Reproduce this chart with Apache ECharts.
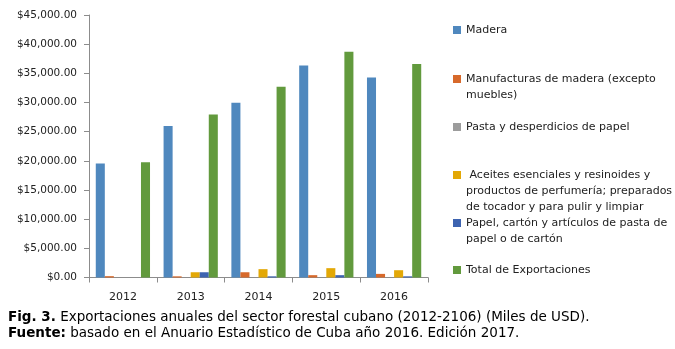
<!DOCTYPE html>
<html><head><meta charset="utf-8">
<script src="https://cdn.jsdelivr.net/npm/echarts@6/dist/echarts.min.js"></script>
<style>html,body{margin:0;padding:0;background:#fff}#c{width:675px;height:349px}</style>
</head><body><div id="c"></div>
<script>
const categories = ['2012', '2013', '2014', '2015', '2016'];
const seriesNames = [
  'Madera',
  'Manufacturas de madera (excepto\nmuebles)',
  'Pasta y desperdicios de papel',
  ' Aceites esenciales y resinoides y\nproductos de perfumería; preparados\nde tocador y para pulir y limpiar',
  'Papel, cartón y artículos de pasta de\npapel o de cartón',
  'Total de Exportaciones'
];
const madera = [19540, 25960, 29940, 36330, 34270];
const manufacturas = [230, 200, 900, 400, 620];
const pasta = [0, 0, 0, 0, 0];
const aceites = [0, 900, 1430, 1600, 1250];
const papel = [0, 900, 200, 400, 200];
const total = [19770, 27960, 32680, 38680, 36620];
const yTicks = [0, 5000, 10000, 15000, 20000, 25000, 30000, 35000, 40000, 45000];

const values = [madera, manufacturas, pasta, aceites, papel, total];
const colors = ['#4F88BE', '#D7692B', '#9C9C9C', '#E3A806', '#3D63B0', '#629A3D'];
const legendCenters = [30, 79, 127, 175, 223, 270];
const FONT = 'DejaVu Sans';
const LH = 16;

const fmt = v => '$' + Number(v).toLocaleString('en-US', {minimumFractionDigits: 2, maximumFractionDigits: 2});

const legends = seriesNames.map((n, i) => ({
  data: [n],
  left: 453, top: legendCenters[i] - LH / 2, padding: 0,
  orient: 'vertical',
  icon: 'rect', itemWidth: 8, itemHeight: 8, itemGap: 0,
  selectedMode: false,
  formatter: name => name.split('\n')[0],
  textStyle: {fontFamily: FONT, fontSize: 11, color: '#222', lineHeight: LH}
}));

// continuation lines of wrapped legend labels
const legendExtra = [];
seriesNames.forEach((n, i) => {
  n.split('\n').slice(1).forEach((line, k) => {
    legendExtra.push({
      type: 'text', x: 466, y: legendCenters[i] + LH * (k + 1),
      style: {text: line, fontFamily: FONT, fontSize: 11, fill: '#222', verticalAlign: 'middle', align: 'left'}
    });
  });
});

const chart = echarts.init(document.getElementById('c'), null, {renderer: 'canvas'});
chart.setOption({
  animation: false,
  color: colors,
  grid: {left: 89, right: 247, top: 15, bottom: 71.5, containLabel: false},
  legend: legends,
  xAxis: {
    type: 'category', data: categories,
    axisLine: {lineStyle: {color: '#8c8c8c', width: 1}},
    axisTick: {show: true, length: 5, lineStyle: {color: '#8c8c8c'}},
    axisLabel: {fontFamily: FONT, fontSize: 11, color: '#222', margin: 14}
  },
  yAxis: {
    type: 'value', min: 0, max: 45000, interval: 5000,
    axisLine: {show: true, lineStyle: {color: '#8c8c8c', width: 1}},
    axisTick: {show: true, length: 5, lineStyle: {color: '#8c8c8c'}},
    splitLine: {show: false},
    axisLabel: {fontFamily: FONT, fontSize: 10.5, color: '#222', margin: 12,
      formatter: v => yTicks.includes(v) ? fmt(v) : ''}
  },
  series: seriesNames.map((n, i) => ({
    name: n, type: 'bar', data: values[i],
    barGap: '0%', barCategoryGap: '20%',
    itemStyle: {color: colors[i]}
  })),
  graphic: legendExtra.concat([
    {type: 'text', left: 8, top: 310, style: {
      text: '{b|Fig. 3.} Exportaciones anuales del sector forestal cubano (2012-2106) (Miles de USD).',
      rich: {b: {fontWeight: 'bold', fontFamily: FONT, fontSize: 13.5, fill: '#000'}},
      fontFamily: FONT, fontSize: 13.5, fill: '#000'}},
    {type: 'text', left: 8, top: 326, style: {
      text: '{b|Fuente:} basado en el Anuario Estadístico de Cuba año 2016. Edición 2017.',
      rich: {b: {fontWeight: 'bold', fontFamily: FONT, fontSize: 13.5, fill: '#000'}},
      fontFamily: FONT, fontSize: 13.5, fill: '#000'}}
  ])
});
</script></body></html>
